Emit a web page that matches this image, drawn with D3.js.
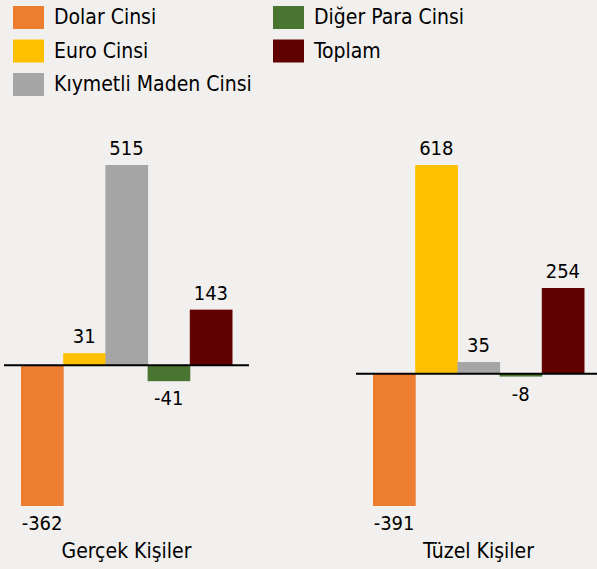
<!DOCTYPE html>
<html>
  <head>
    <script src="https://d3js.org/d3.v7.min.js"></script>
    <title>Gerçek ve Tüzel Kişiler</title>
    <style>
      body { margin: 0; background: #f2f0ee; }
      text { font-family: "DejaVu Sans Condensed", "DejaVu Sans", sans-serif; fill: #000; }
    </style>
  </head>
  <body>
    <div id="container"></div>
    <script>
    const categories = ['Dolar Cinsi', 'Euro Cinsi', 'Kıymetli Maden Cinsi', 'Diğer Para Cinsi', 'Toplam'];
    const groups = ['Gerçek Kişiler', 'Tüzel Kişiler'];
    const gercekValues = [-362, 31, 515, -41, 143];
    const tuzelValues = [-391, 618, 35, -8, 254];
    const colors = ['#ed7d31', '#ffc000', '#a5a5a5', '#4a7530', '#600000'];

    const w = 597, h = 569;

    const svg = d3.select('#container')
      .append('svg')
      .attr('width', w)
      .attr('height', h);

    svg.append('rect').attr('width', w).attr('height', h).attr('fill', '#f2f0ee');

    // legend, 3 rows then next column
    const legend = svg.append('g');
    categories.forEach((c, i) => {
      const col = Math.floor(i / 3), row = i % 3;
      const gx = 13 + col * 260, gy = 6 + row * 33.5;
      legend.append('rect')
        .attr('x', gx).attr('y', gy)
        .attr('width', 31).attr('height', 23)
        .attr('fill', colors[i]);
      legend.append('text')
        .attr('x', gx + 41).attr('y', gy + 18)
        .style('font-size', '21px')
        .text(c);
    });

    const panels = [
      { name: groups[0], values: gercekValues, x0: 21, x1: 232 },
      { name: groups[1], values: tuzelValues, x0: 373, x1: 584 }
    ];

    panels.forEach(p => {
      const xScale = d3.scaleBand()
        .domain(categories)
        .range([p.x0, p.x1])
        .paddingInner(0);

      const yScale = d3.scaleLinear()
        .domain([d3.min(p.values), d3.max(p.values)])
        .range([506, 165]);

      const g = svg.append('g');

      g.selectAll('rect')
        .data(p.values)
        .enter()
        .append('rect')
        .attr('x', (d, i) => xScale(categories[i]))
        .attr('y', d => yScale(Math.max(0, d)))
        .attr('width', xScale.bandwidth() + 0.5)
        .attr('height', d => Math.abs(yScale(d) - yScale(0)))
        .attr('fill', (d, i) => colors[i]);

      // zero line
      g.append('line')
        .attr('x1', p.x0 - 17).attr('x2', p.x1 + 17)
        .attr('y1', yScale(0)).attr('y2', yScale(0))
        .attr('stroke', '#000')
        .attr('stroke-width', 2);

      g.selectAll('.val')
        .data(p.values)
        .enter()
        .append('text')
        .attr('class', 'val')
        .attr('x', (d, i) => xScale(categories[i]) + xScale.bandwidth() / 2)
        .attr('y', d => d >= 0 ? yScale(d) - 10 : yScale(d) + 24)
        .attr('text-anchor', 'middle')
        .style('font-size', '20px')
        .text(d => d);

      g.append('text')
        .attr('x', (p.x0 + p.x1) / 2)
        .attr('y', 558)
        .attr('text-anchor', 'middle')
        .style('font-size', '21px')
        .text(p.name);
    });
    </script>
  </body>
</html>
